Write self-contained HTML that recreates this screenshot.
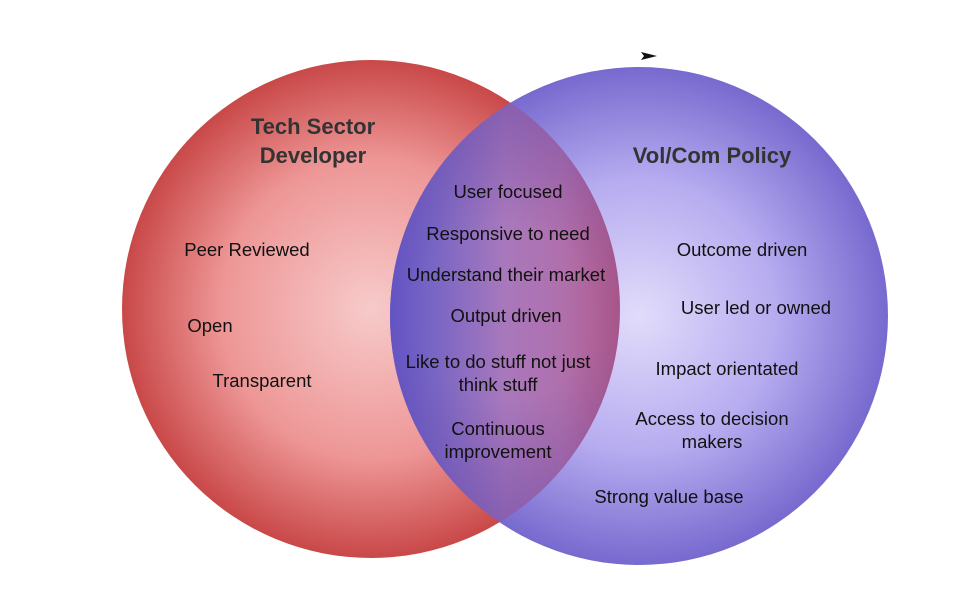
<!DOCTYPE html>
<html><head><meta charset="utf-8"><style>
html,body{margin:0;padding:0;background:#fff}
svg text{font-family:"Liberation Sans",sans-serif;fill:#111;font-size:18.5px;text-anchor:middle}
svg text.t{font-weight:bold;font-size:22px;fill:#333}
</style></head><body>
<svg width="960" height="593" viewBox="0 0 960 593" xmlns="http://www.w3.org/2000/svg">
<defs>
<radialGradient id="r" cx="0.5" cy="0.5" r="0.5">
<stop offset="0" stop-color="#f7caca"/><stop offset="0.6" stop-color="#ee9696"/><stop offset="1" stop-color="#c94848"/>
</radialGradient>
<radialGradient id="b" cx="0.5" cy="0.5" r="0.5">
<stop offset="0" stop-color="#dcd6fa"/><stop offset="0.55" stop-color="#a99ded"/><stop offset="1" stop-color="#5f4fc6"/>
</radialGradient>
<linearGradient id="o" x1="390" y1="0" x2="620" y2="0" gradientUnits="userSpaceOnUse">
<stop offset="0" stop-color="#6456c6"/><stop offset="0.2" stop-color="#7a66c4"/><stop offset="0.5" stop-color="#a878bc"/><stop offset="0.75" stop-color="#b070ac"/><stop offset="1" stop-color="#ae5888"/>
</linearGradient>
<radialGradient id="od" cx="505" cy="312" r="220" gradientUnits="userSpaceOnUse">
<stop offset="0.4" stop-color="#5a3ca0" stop-opacity="0"/><stop offset="1" stop-color="#5a3ca0" stop-opacity="0.45"/>
</radialGradient>
<clipPath id="cr"><circle cx="371" cy="309" r="249"/></clipPath>
</defs>
<circle cx="371" cy="309" r="249" fill="url(#r)"/>
<circle cx="639" cy="316" r="249" fill="url(#b)" opacity="0.85"/>
<g clip-path="url(#cr)">
<circle cx="639" cy="316" r="249" fill="url(#o)"/>
<circle cx="639" cy="316" r="249" fill="url(#od)"/>
</g>
<path d="M641 52 L657 56 L641 60 L644 56 Z" fill="#111"/>
<text class="t" x="313" y="134">Tech Sector</text>
<text class="t" x="313" y="163">Developer</text>
<text class="t" x="712" y="163">Vol/Com Policy</text>
<text x="247" y="256">Peer Reviewed</text>
<text x="210" y="332">Open</text>
<text x="262" y="387">Transparent</text>
<text x="508" y="198">User focused</text>
<text x="508" y="240">Responsive to need</text>
<text x="506" y="281">Understand their market</text>
<text x="506" y="322">Output driven</text>
<text x="498" y="368">Like to do stuff not just</text>
<text x="498" y="391">think stuff</text>
<text x="498" y="435">Continuous</text>
<text x="498" y="458">improvement</text>
<text x="742" y="256">Outcome driven</text>
<text x="756" y="314">User led or owned</text>
<text x="727" y="375">Impact orientated</text>
<text x="712" y="425">Access to decision</text>
<text x="712" y="448">makers</text>
<text x="669" y="503">Strong value base</text>
</svg>
</body></html>
